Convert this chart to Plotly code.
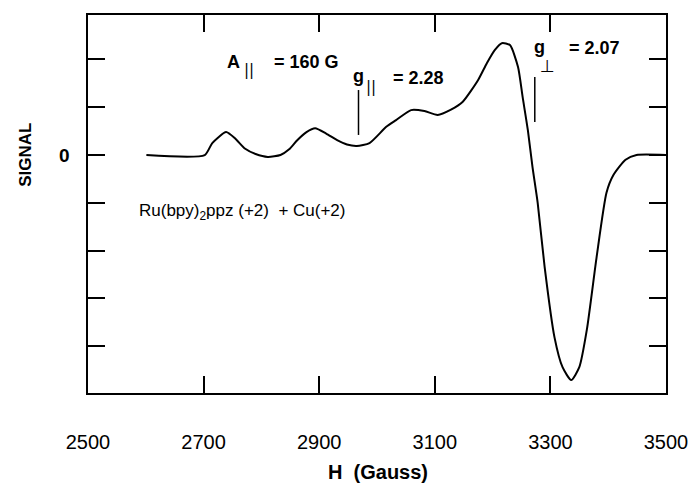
import plotly.graph_objects as go

# EPR spectrum
field_G = [2601, 2702, 2715, 2739, 2755, 2772, 2790, 2811, 2833, 2848, 2862, 2878, 2893, 2912,
           2931, 2948, 2965, 2987, 3016, 3033, 3059, 3082, 3105, 3128, 3148, 3175, 3190,
           3204, 3216, 3230, 3244, 3252, 3261, 3269, 3278, 3290, 3307, 3321, 3336, 3350,
           3363, 3380, 3397, 3409, 3430, 3449, 3500]
signal = [0.0, 0.0, 0.25, 0.48, 0.34, 0.13, 0.02, -0.04, 0.0, 0.12, 0.31, 0.48, 0.56, 0.45,
          0.31, 0.22, 0.19, 0.25, 0.59, 0.73, 0.94, 0.92, 0.84, 0.95, 1.11, 1.57, 1.92,
          2.20, 2.34, 2.30, 1.84, 1.21, 0.52, -0.25, -1.00, -2.34, -3.81, -4.44, -4.71, -4.44,
          -3.66, -2.13, -0.79, -0.42, -0.10, 0.0, 0.0]

x_tickvals = [2500, 2700, 2900, 3100, 3300, 3500]
x_ticktext = ["2500", "2700", "2900", "3100", "3300", "3500"]
y_tickvals = [-4, -3, -2, -1, 0, 1, 2]
y_zero_label = "0"

# g-value marker lines: field position, y start, y end
g_markers_G = [2968, 3273]
g_markers_y0 = [0.42, 0.69]
g_markers_y1 = [1.36, 1.63]

X_RANGE = [2500, 3500]
Y_RANGE = [-4.98, 2.93]

L, R, T, B = 88, 27, 15, 91
W, H = 700, 484
PW, PH = W - L - R, H - T - B


def paper(px, py):
    return (px - L) / PW, (H - B - py) / PH


fig = go.Figure()
fig.add_trace(go.Scatter(x=field_G, y=signal, mode="lines",
                         line=dict(color="black", width=2, shape="spline", smoothing=0.6),
                         showlegend=False, hoverinfo="skip"))

for gx, y0, y1 in zip(g_markers_G, g_markers_y0, g_markers_y1):
    fig.add_shape(type="line", x0=gx, x1=gx, y0=y0, y1=y1, xref="x", yref="y",
                  line=dict(color="black", width=1.5))

BOLD = "Liberation Sans"


def txt(s, px, py, size, bold=True, xanchor="center", family=BOLD):
    xp, yp = paper(px, py)
    if bold:
        s = "<b>" + s + "</b>"
    fig.add_annotation(text=s, x=xp, y=yp, xref="paper", yref="paper",
                       xanchor=xanchor, yanchor="middle", showarrow=False,
                       font=dict(family=family, size=size, color="black"))


txt("A", 235, 62, 18)
txt("||", 251, 70, 15, bold=False, family="DejaVu Sans")
txt("= 160 G", 309, 62, 18)
txt("g", 362, 76, 18)
txt("||", 374, 87, 15, bold=False, family="DejaVu Sans")
txt("= 2.28", 423, 78, 18)
txt("g", 545, 47, 18)
txt("⊥", 553, 66, 17, bold=False, family="DejaVu Sans")
txt("= 2.07", 601, 48, 18)
txt("Ru(bpy)<sub>2</sub>ppz (+2)  + Cu(+2)", 138, 212, 17, bold=False, xanchor="left")

# y "0" label, placed next to the zero tick
fig.add_annotation(text="<b>" + y_zero_label + "</b>", x=0, y=0, xref="paper", yref="y",
                   xanchor="right", yanchor="middle", xshift=-16, showarrow=False,
                   font=dict(family=BOLD, size=19, color="black"))

# axis titles
xp, yp = paper(382, 472)
fig.add_annotation(text="<b>H  (Gauss)</b>", x=xp, y=yp, xref="paper", yref="paper",
                   showarrow=False, xanchor="center", yanchor="middle",
                   font=dict(family=BOLD, size=20, color="black"))
xp, yp = paper(24, 155)
fig.add_annotation(text="<b>SIGNAL</b>", x=xp, y=yp, xref="paper", yref="paper",
                   showarrow=False, xanchor="center", yanchor="middle", textangle=-90,
                   font=dict(family=BOLD, size=17, color="black"))

fig.update_layout(
    width=W, height=H, margin=dict(l=L, r=R, t=T, b=B),
    paper_bgcolor="white", plot_bgcolor="white",
    xaxis=dict(range=X_RANGE, tickvals=x_tickvals, ticktext=x_ticktext,
               ticks="inside", ticklen=17, tickwidth=1.5, tickcolor="black",
               showline=True, linecolor="black", linewidth=1.5, mirror="ticks",
               showgrid=False, zeroline=False, ticklabelstandoff=30,
               tickfont=dict(family="Liberation Sans", size=20, color="black")),
    yaxis=dict(range=Y_RANGE, tickvals=y_tickvals, showticklabels=False,
               ticks="inside", ticklen=17, tickwidth=1.5, tickcolor="black",
               showline=True, linecolor="black", linewidth=1.5, mirror="ticks",
               showgrid=False, zeroline=False),
)

fig.write_html("out.html")
